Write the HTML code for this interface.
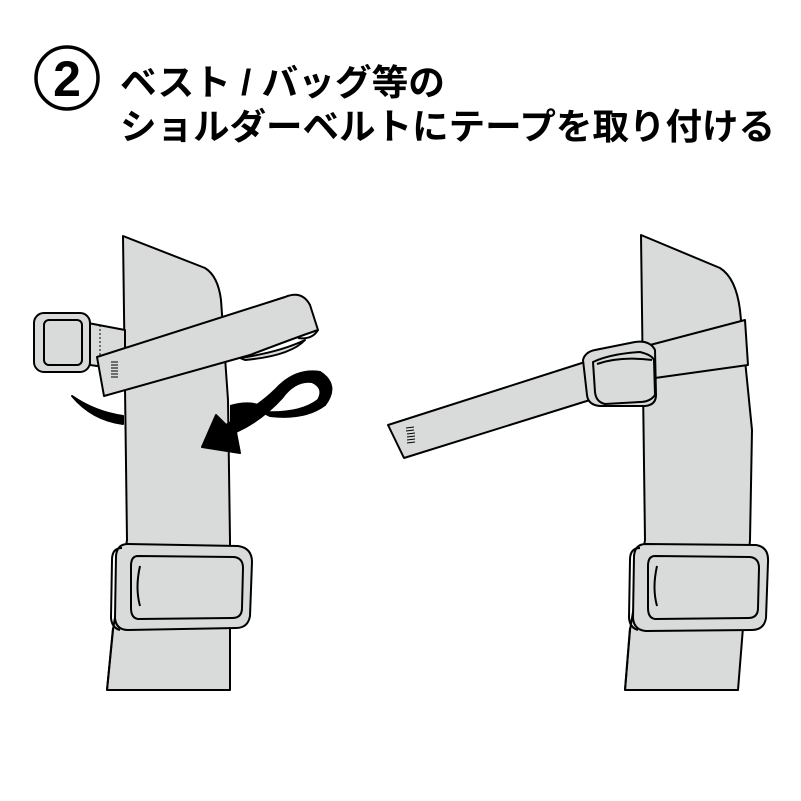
<!DOCTYPE html>
<html><head><meta charset="utf-8"><style>
html,body{margin:0;padding:0;background:#fff;width:801px;height:801px;overflow:hidden}
</style></head><body>
<svg width="801" height="801" viewBox="0 0 801 801" xmlns="http://www.w3.org/2000/svg">
<rect width="801" height="801" fill="#fff"/>
<circle cx="67" cy="78" r="31" fill="none" stroke="#000" stroke-width="3.5"/>
<text x="67" y="96" text-anchor="middle" font-family="Liberation Sans, sans-serif" font-weight="bold" font-size="50">2</text>
<g font-family="Liberation Sans, Noto Sans CJK JP, sans-serif" font-weight="bold" font-size="36" fill="#000">
<text x="120" y="95" textLength="325" lengthAdjust="spacingAndGlyphs">ベスト / バッグ等の</text>
<text x="120" y="139" textLength="655" lengthAdjust="spacingAndGlyphs">ショルダーベルトにテープを取り付ける</text>
</g>
<g stroke="#000" stroke-width="2" fill="#d9dbda" stroke-linejoin="round">
<!-- LEFT -->
<path d="M123,236 L205,268 Q218,276 221,300 L228,400 L230,540 L230,690 L107,690 L113,630 L127,540 Z"/>
<path d="M113,628 L107,690" fill="none"/>
<path d="M88,323 L125,330 L125,370 L90,365 Z"/>
<line x1="100" y1="325" x2="100" y2="366" stroke-dasharray="2,2" stroke-width="1"/>
<rect x="34" y="313" width="56" height="59" rx="10"/>
<rect x="44" y="320" width="38" height="45" rx="5"/>
<path d="M72,396 Q95,412 123,416 L123,424 Q92,420 72,396 Z" fill="#000"/>
<path d="M230,405 Q255,398 270,410 L250,425 L230,435 Z" fill="#000" stroke="none"/>
<path d="M240,358 Q280,352 305,340 Q290,356 245,360 Z"/>
<path d="M97,357 L285,297 Q302,290 310,305 L318,330 Q300,336 250,355 L104,396 Z"/>
<path d="M318,330 Q312,340 298,338" fill="none"/>
<g stroke-width="1">
<line x1="111" y1="362" x2="118" y2="362"/><line x1="111" y1="365" x2="118" y2="365"/><line x1="111" y1="368" x2="118" y2="368"/><line x1="111" y1="371" x2="118" y2="371"/><line x1="111" y1="374" x2="118" y2="374"/><line x1="111" y1="377" x2="118" y2="377"/>
</g>
<path d="M226,425 Q260,405 275,390 Q295,368 320,372 Q340,385 325,405 Q305,420 270,416 L262,412 Q300,414 318,400 Q325,388 312,382 Q295,380 282,398 Q262,420 236,432 L240,453 L202,447 L216,415 Z" fill="#000"/>
<path d="M138,556 L234,557 Q243,558 243,568 L242,608 Q242,618 232,618 L138,619 Q131,618 131,608 L131,566 Q131,556 138,556 Z" fill="none" stroke="none"/>
<path d="M128,544 L238,546 Q252,548 252,562 L250,616 Q248,628 236,628 L128,630 Q116,630 115,618 L116,556 Q117,544 128,544 Z"/>
<path d="M122,548 Q112,548 112,560 L111,618 Q112,628 120,630" fill="none"/>
<path d="M138,556 L234,557 Q243,558 243,568 L242,608 Q242,618 232,618 L138,619 Q131,618 131,608 L131,566 Q131,556 138,556 Z"/>
<path d="M140,566 Q135,588 140,606" fill="none"/>
<!-- RIGHT -->
<path d="M641,235 L720,268 Q736,278 740,310 L752,430 L750,540 L738,690 L625,690 L630,630 L645,540 Z"/>
<path d="M630,628 L625,690" fill="none"/>
<path d="M388,425 L585,362 L650,345 L745,320 L748,365 L655,378 L590,400 L404,458 Z"/>
<path d="M583,360 Q585,352 595,350 L635,342 Q650,340 655,350 L656,395 Q656,405 645,406 L600,406 Q588,405 587,395 Z"/>
<path d="M593,362 Q610,354 640,352 Q652,355 654,360 L655,395 Q650,402 640,402 L605,404 Q596,402 595,392 Z"/>
<path d="M597,364 Q620,356 652,360" fill="none"/>
<g stroke-width="1">
<line x1="406" y1="428" x2="414" y2="427"/><line x1="406" y1="431" x2="414" y2="430"/><line x1="407" y1="434" x2="415" y2="433"/><line x1="407" y1="437" x2="415" y2="436"/><line x1="407" y1="440" x2="415" y2="439"/><line x1="407" y1="443" x2="415" y2="442"/>
</g>
<path d="M646,544 L756,545 Q769,547 768,562 L766,618 Q764,630 752,630 L646,631 Q634,630 633,618 L634,556 Q635,544 646,544 Z"/>
<path d="M640,548 Q630,548 630,560 L629,618 Q630,628 638,630" fill="none"/>
<path d="M655,556 L750,557 Q759,558 759,568 L758,608 Q758,618 748,618 L655,619 Q648,618 648,608 L648,566 Q648,556 655,556 Z"/>
<path d="M657,566 Q652,588 657,606" fill="none"/>
</g>
</svg>
</body></html>
